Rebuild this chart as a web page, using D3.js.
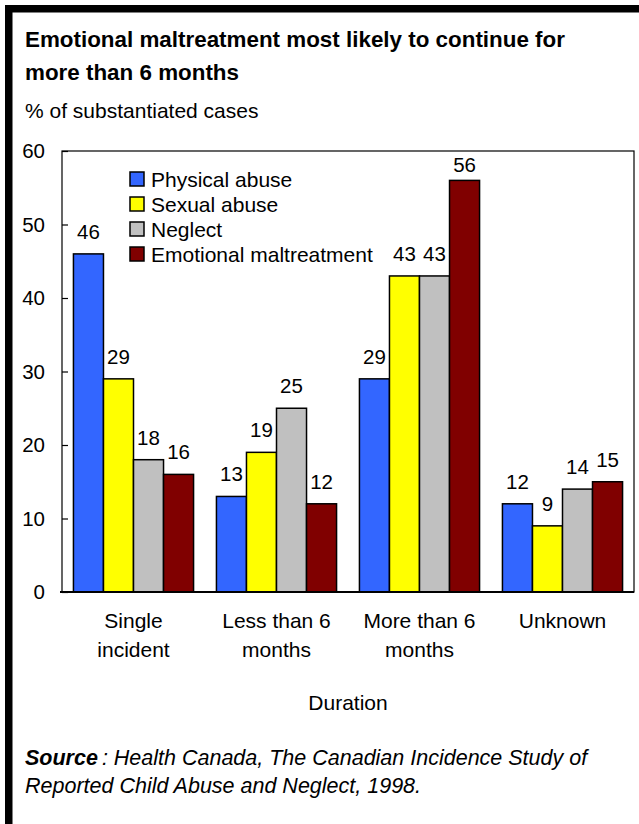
<!DOCTYPE html>
<html><head><meta charset="utf-8">
<script src="https://cdn.jsdelivr.net/npm/d3@7"></script>
<style>body{margin:0;background:#fff}svg{display:block;font-family:"Liberation Sans",Arial,sans-serif}</style>
</head><body>
<svg id="c" width="639" height="824"></svg>
<script>
const categories = [["Single","incident"],["Less than 6","months"],["More than 6","months"],["Unknown"]];
const seriesNames = ["Physical abuse","Sexual abuse","Neglect","Emotional maltreatment"];
const seriesColors = ["#3366FF","#FFFF00","#C0C0C0","#800000"];
const physical = [46,13,29,12];
const sexual = [29,19,43,9];
const neglect = [18,25,43,14];
const emotional = [16,12,56,15];
const yTicks = [0,10,20,30,40,50,60];
const values = [physical, sexual, neglect, emotional];

const svg = d3.select("#c");
// frame border
svg.append("rect").attr("x",5).attr("y",5).attr("width",634).attr("height",7.5).attr("fill","#000");
svg.append("rect").attr("x",5).attr("y",5).attr("width",7.5).attr("height",819).attr("fill","#000");

svg.append("text").attr("x",25).attr("y",47).attr("font-size",22.4).attr("font-weight","bold").text("Emotional maltreatment most likely to continue for");
svg.append("text").attr("x",25).attr("y",80).attr("font-size",22.4).attr("font-weight","bold").text("more than 6 months");
svg.append("text").attr("x",25).attr("y",118).attr("font-size",21).text("% of substantiated cases");

const L=62, R=634, T=151, B=592;
const y = d3.scaleLinear().domain([0,60]).range([B,T]);
const catKeys = categories.map(c=>c.join(" "));
const x0 = d3.scaleBand().domain(catKeys).range([L,R]).paddingInner(0.16).paddingOuter(0.08);
const x1 = d3.scaleBand().domain(seriesNames).range([0,x0.bandwidth()]);

// plot frame
svg.append("rect").attr("x",L).attr("y",T).attr("width",R-L).attr("height",B-T).attr("fill","none").attr("stroke","#000").attr("stroke-width",1.2);

// y axis
const yAxis = d3.axisRight(y).tickValues(yTicks).tickSize(6).tickFormat("");
const ga = svg.append("g").attr("transform",`translate(${L},0)`).call(yAxis);
ga.select(".domain").remove();
ga.selectAll("line").attr("stroke","#000").attr("stroke-width",1.2);
svg.append("g").selectAll("text").data(yTicks).join("text")
  .attr("x",45).attr("y",d=>y(d)).attr("dy","0.36em").attr("text-anchor","end").attr("font-size",20.5).text(d=>d);

// bars
const gBars = svg.append("g");
seriesNames.forEach((s,si)=>{
  gBars.selectAll(null).data(values[si]).join("rect")
    .attr("x",(d,i)=>x0(catKeys[i])+x1(s))
    .attr("y",d=>y(d))
    .attr("width",x1.bandwidth())
    .attr("height",d=>B-y(d))
    .attr("fill",seriesColors[si]).attr("stroke","#000").attr("stroke-width",1.5);
  gBars.selectAll(null).data(values[si]).join("text")
    .attr("x",(d,i)=>x0(catKeys[i])+x1(s)+x1.bandwidth()/2)
    .attr("y",d=>Math.max(y(d)-15, T+21))
    .attr("text-anchor","middle").attr("font-size",20.5).text(d=>d);
});

// x axis line
svg.append("line").attr("x1",L-2).attr("x2",R).attr("y1",B).attr("y2",B).attr("stroke","#000").attr("stroke-width",2.2);

// category labels
categories.forEach((c,i)=>{
  const t = svg.append("text").attr("text-anchor","middle").attr("font-size",21);
  c.forEach((line,li)=>{
    t.append("tspan").attr("x",x0(catKeys[i])+x0.bandwidth()/2).attr("y",628+li*29).text(line);
  });
});
svg.append("text").attr("x",(L+R)/2).attr("y",710).attr("text-anchor","middle").attr("font-size",21).text("Duration");

// legend
const lg = svg.append("g");
seriesNames.forEach((s,i)=>{
  const cy = 179 + i*25;
  lg.append("rect").attr("x",130).attr("y",cy-7).attr("width",14).attr("height",14).attr("fill",seriesColors[i]).attr("stroke","#000").attr("stroke-width",1.5);
  lg.append("text").attr("x",151).attr("y",cy).attr("dy","0.36em").attr("font-size",21).text(s);
});

// source
const src = svg.append("text").attr("x",25).attr("y",765).attr("font-size",21.5).attr("font-style","italic");
src.append("tspan").attr("font-weight","bold").text("Source");
src.append("tspan").attr("dx",4).text(": Health Canada, The Canadian Incidence Study of");
svg.append("text").attr("x",25).attr("y",793).attr("font-size",21.5).attr("font-style","italic").text("Reported Child Abuse and Neglect, 1998.");
</script>
</body></html>
